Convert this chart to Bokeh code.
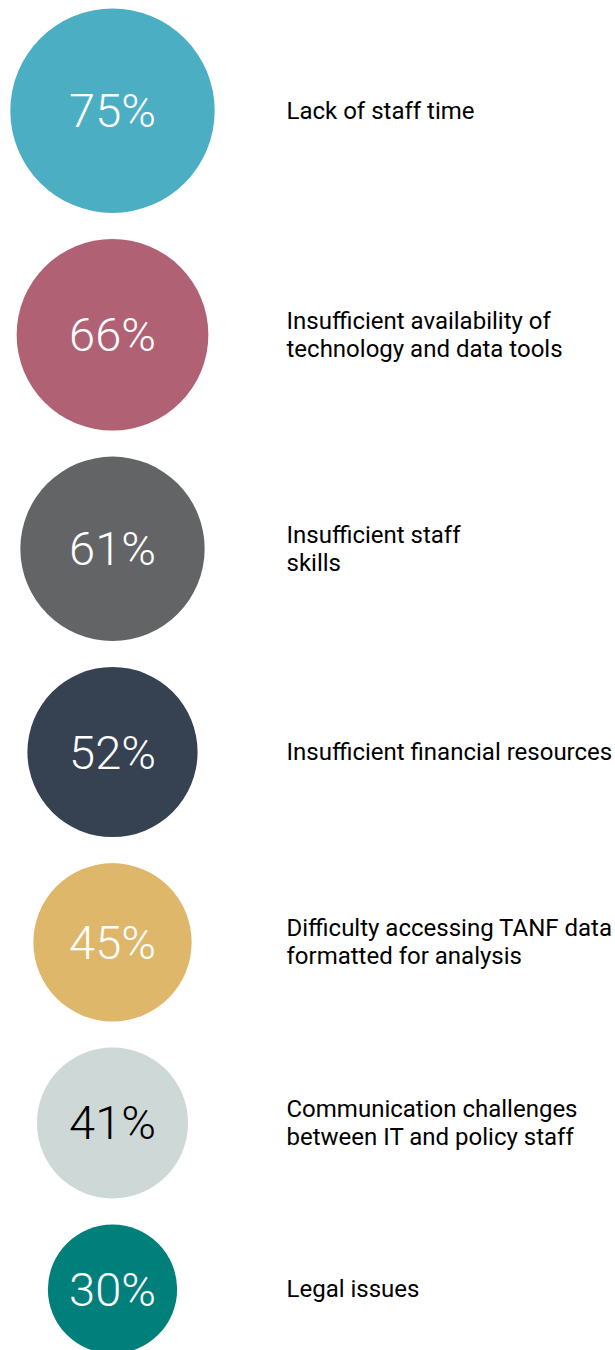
import numpy as np
from bokeh.plotting import figure
from bokeh.models import ColumnDataSource
from bokeh.core.properties import value
from bokeh.embed import file_html
from bokeh.resources import INLINE

# ---- data ----
values = [75, 66, 61, 52, 45, 41, 30]
pct_labels = ["75%", "66%", "61%", "52%", "45%", "41%", "30%"]
categories = [
    "Lack of staff time",
    "Insufficient availability of\ntechnology and data tools",
    "Insufficient staff\nskills",
    "Insufficient financial resources",
    "Difficulty accessing TANF data\nformatted for analysis",
    "Communication challenges\nbetween IT and policy staff",
    "Legal issues",
]
colors = ["#4BAEC2", "#B06174", "#636466", "#364152", "#DFB76B", "#CED8D6", "#007F7B"]
pct_colors = ["#FFFFFF", "#FFFFFF", "#FFFFFF", "#FFFFFF", "#FFFFFF", "#000000", "#FFFFFF"]

# ---- layout (area proportional to value) ----
W, H = 615, 1350
k = 11.8
gap = 26
top = 8
cx = 112
label_x = 286

radii = [k * np.sqrt(v) for v in values]
centers = []
cur = top
for r in radii:
    centers.append(cur + r)
    cur += 2 * r + gap

src = ColumnDataSource(dict(
    x=[cx] * len(values), y=centers, r=radii, color=colors,
    pct=pct_labels, pct_color=pct_colors,
    lx=[label_x] * len(values), label=categories,
))

p = figure(width=W, height=H, x_range=(0, W), y_range=(H, 0),
           output_backend="svg", toolbar_location=None, min_border=0,
           outline_line_color=None, background_fill_color="white",
           border_fill_color="white")
p.axis.visible = False
p.grid.visible = False

p.circle(x="x", y="y", radius="r", fill_color="color", line_color=None, source=src)
p.text(x="x", y="y", text="pct", text_color="pct_color", text_align="center",
       text_baseline="middle", text_font=value("Roboto Light, Roboto"),
       text_font_size="47px", source=src)
p.text(x="lx", y="y", text="label", text_color="#000000", text_align="left",
       text_baseline="middle", text_font=value("Roboto"), text_font_size="24px",
       text_line_height=1.0, source=src)

open("out.html", "w").write(file_html(p, INLINE))
